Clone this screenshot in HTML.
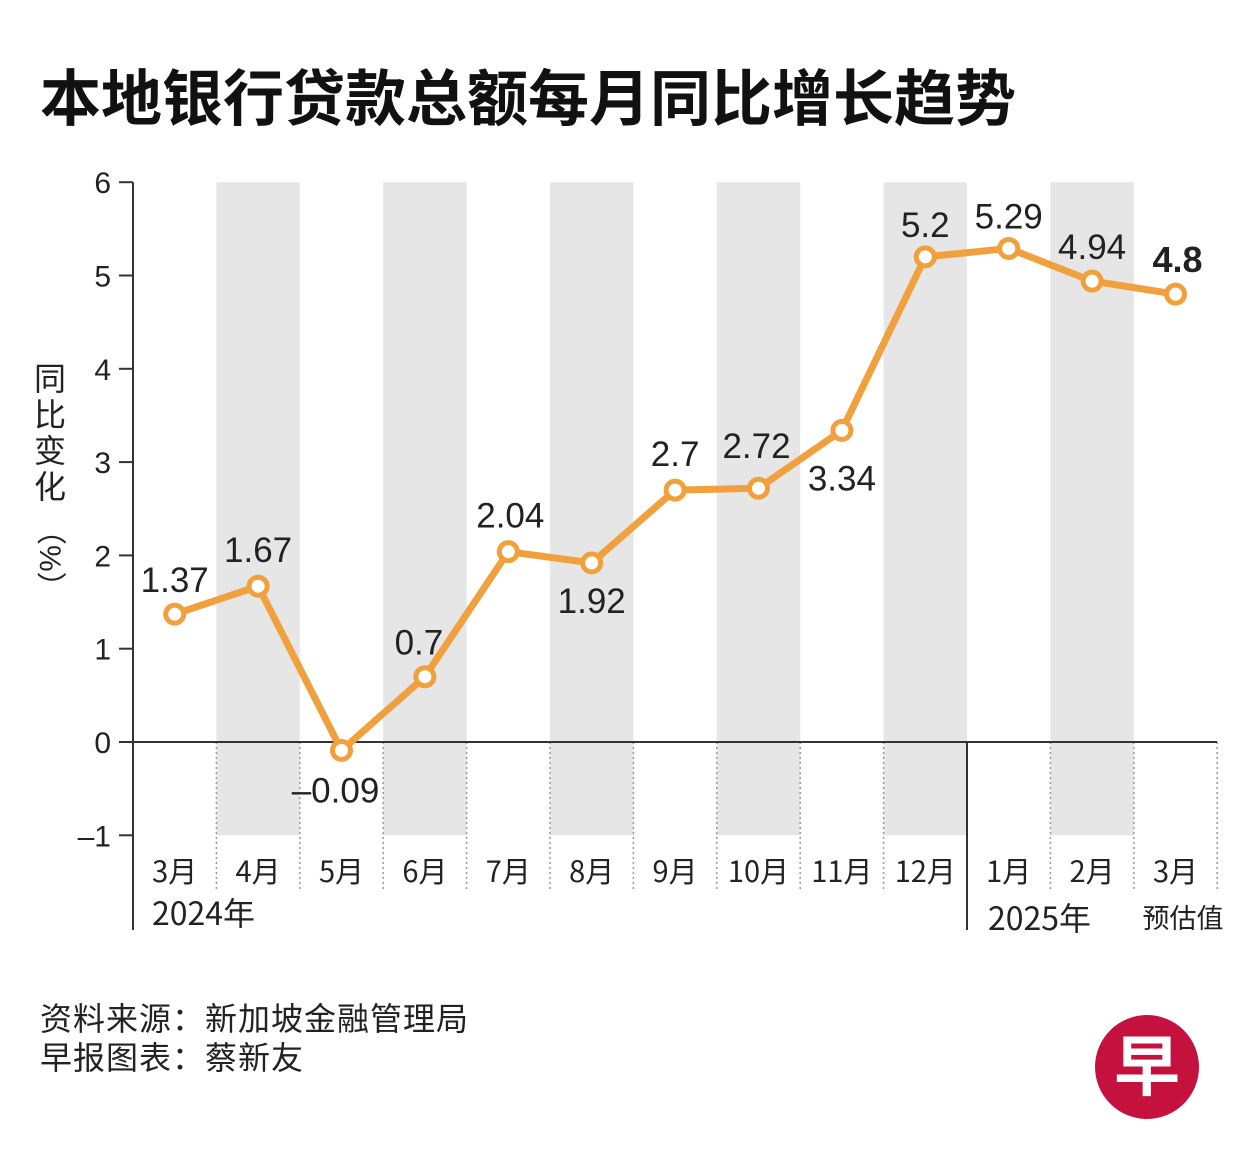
<!DOCTYPE html>
<html><head><meta charset="utf-8">
<style>
body{margin:0;background:#fff;}
svg{display:block;font-family:"Liberation Sans","Noto Sans CJK SC",sans-serif;}
</style></head>
<body>
<svg id="chart" width="1251" height="1172" viewBox="0 0 1251 1172">
<text x="40" y="120" font-size="61" font-weight="bold" fill="#111" font-family="'Noto Sans CJK SC',sans-serif">本地银行贷款总额每月同比增长趋势</text>
<g id="bands"></g>
<g id="grid"></g>
<g id="axis"></g>
<g id="series"></g>
<g id="labels"></g>
<text font-size="32" fill="#222" font-family="'Noto Sans CJK SC',sans-serif">
<tspan x="34" y="390">同</tspan><tspan x="34" y="426">比</tspan><tspan x="34" y="462">变</tspan><tspan x="34" y="498">化</tspan>
</text>
<text font-size="30" fill="#222" transform="translate(40,515) rotate(90)">（%）</text>
<text x="40" y="1030" font-size="32" letter-spacing="1" fill="#222" font-family="'Noto Sans CJK SC',sans-serif">资料来源：新加坡金融管理局</text>
<text x="40" y="1069" font-size="32" letter-spacing="1" fill="#222" font-family="'Noto Sans CJK SC',sans-serif">早报图表：蔡新友</text>
<g>
<circle cx="1147" cy="1067" r="52" fill="#C4113D"/>
<text x="1147" y="1090" text-anchor="middle" font-size="66" font-weight="bold" fill="#fff" font-family="'Noto Sans CJK SC',sans-serif">早</text>
</g>
</svg>
<script>
const months = ["3月","4月","5月","6月","7月","8月","9月","10月","11月","12月","1月","2月","3月"];
const values = [1.37,1.67,-0.09,0.7,2.04,1.92,2.7,2.72,3.34,5.2,5.29,4.94,4.8];
const valueLabels = ["1.37","1.67","–0.09","0.7","2.04","1.92","2.7","2.72","3.34","5.2","5.29","4.94","4.8"];
const yTicks = [-1,0,1,2,3,4,5,6];
const yTickLabels = ["–1","0","1","2","3","4","5","6"];

const NS="http://www.w3.org/2000/svg";
const x0=133, colW=83.4;
const xBand=i=>x0+i*colW;
const xC=i=>x0+(i+0.5)*colW;
const y=v=>742-v*93.3;
function mk(tag,attrs,parent,txt){const e=document.createElementNS(NS,tag);for(const k in attrs)e.setAttribute(k,attrs[k]);if(txt!==undefined)e.textContent=txt;parent.appendChild(e);return e;}
const bands=document.getElementById('bands'),grid=document.getElementById('grid'),axis=document.getElementById('axis'),series=document.getElementById('series'),labels=document.getElementById('labels');

months.forEach((m,i)=>{
  if(i%2===1){
    const r=mk('rect',{x:xBand(i),y:y(6),width:colW,height:y(-1)-y(6),fill:'#e6e6e6'},bands);
    
    
  }
  const t=mk('text',{x:xC(i),y:882,'text-anchor':'middle','font-size':29,fill:'#222','font-family':"'Noto Sans CJK SC',sans-serif"},axis,m);
  
  
});
for(let i=1;i<months.length+1;i++){
  if(i===10) continue;
  mk('line',{x1:xBand(i),x2:xBand(i),y1:y(0),y2:890,stroke:'#999','stroke-width':1.5,'stroke-dasharray':'2,3'},grid);
}
mk('line',{x1:xBand(10),x2:xBand(10),y1:y(0),y2:930,stroke:'#333','stroke-width':2},axis);
mk('line',{x1:x0,x2:x0,y1:y(6),y2:930,stroke:'#333','stroke-width':2},axis);
mk('line',{x1:x0,x2:1217,y1:y(0),y2:y(0),stroke:'#333','stroke-width':2},axis);
yTicks.forEach((v,i)=>{
  mk('line',{x1:x0-14,x2:x0,y1:y(v),y2:y(v),stroke:'#333','stroke-width':2},axis);
  const t=mk('text',{x:x0-22,y:y(v)+11,'text-anchor':'end','font-size':30,fill:'#222'},axis,yTickLabels[i]);
  
  
});
let yr=mk('text',{x:152,y:925,'font-size':32,fill:'#222','font-family':"'Noto Sans CJK SC',sans-serif"},axis,'2024年');


yr=mk('text',{x:988,y:930,'font-size':32,fill:'#222','font-family':"'Noto Sans CJK SC',sans-serif"},axis,'2025年');


yr=mk('text',{x:1183,y:928,'text-anchor':'middle','font-size':27,fill:'#222','font-family':"'Noto Sans CJK SC',sans-serif"},axis,'预估值');



const pts=values.map((v,i)=>xC(i)+','+y(v)).join(' ');
const pl=mk('polyline',{points:pts,fill:'none',stroke:'#F0A03C','stroke-width':7,'stroke-linejoin':'round'},series);


const offs=[[0,-22],[0,-24],[-6,52],[-6,-22],[2,-24],[0,50],[0,-24],[-2,-30],[0,60],[0,-20],[0,-20],[0,-22],[2,-22]];
values.forEach((v,i)=>{
  const c=mk('circle',{cx:xC(i),cy:y(v),r:9,fill:'#fff',stroke:'#F0A03C','stroke-width':5},series);
  
  
  const last=i===values.length-1;
  const t=mk('text',{x:xC(i)+offs[i][0],y:y(v)+offs[i][1],'text-anchor':'middle','font-size':last?36:35,'font-weight':last?'bold':'normal',fill:'#222'},labels,valueLabels[i]);
  
  
});
</script>
</body></html>
